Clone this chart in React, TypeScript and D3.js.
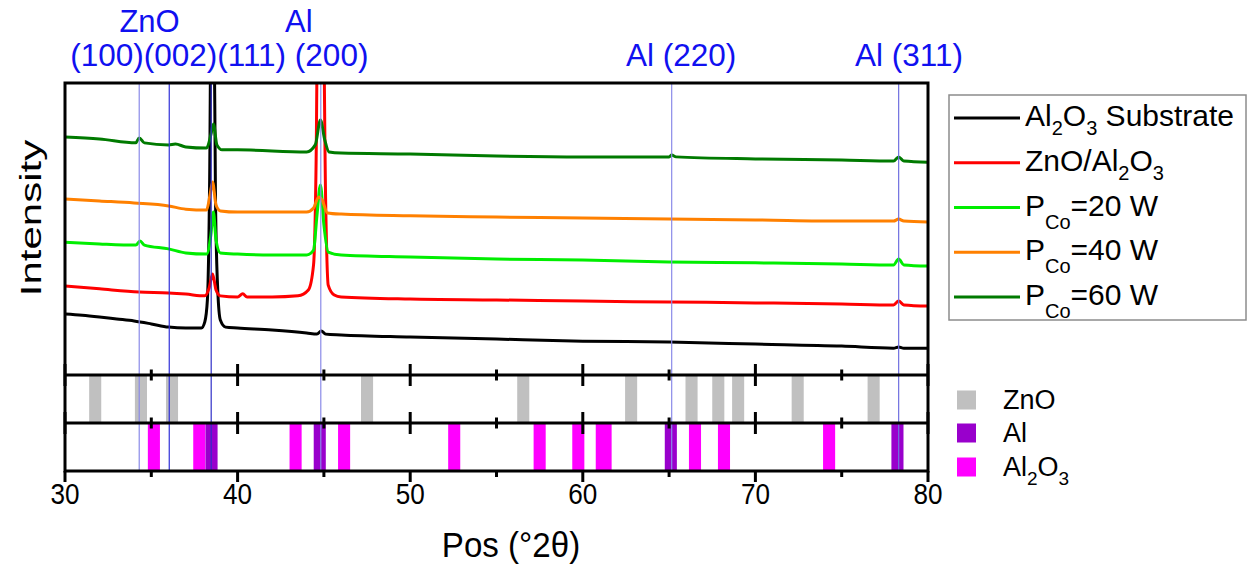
import React from "react";
import * as d3 from "d3";

// ---------- data (2θ in degrees, intensity in arbitrary units) ----------
const xTicks = [30, 35, 40, 45, 50, 55, 60, 65, 70, 75, 80];
const xLabels = [30, 40, 50, 60, 70, 80];

const substrate: [number, number][] = [
  [30, 209], [31, 205], [32, 199], [33, 192], [34, 185], [35, 175], [36, 164], [37, 161],
  [37.9, 161], [38.1, 182], [38.25, 257], [38.38, 668], [38.47, 1300], [38.62, 1300],
  [38.72, 600], [38.85, 291], [39.0, 188], [39.3, 164], [40, 161], [42, 154], [44, 144],
  [44.6, 140], [44.85, 151], [45.1, 140], [46, 137], [50, 130], [55, 123], [60, 116],
  [65, 113], [70, 106], [75, 99], [78, 92], [78.3, 96], [78.6, 92], [80, 92],
];
const znoFilm: [number, number][] = [
  [30, 305], [32, 295], [34.3, 284], [36, 281], [37, 277], [38.1, 271], [38.35, 298],
  [38.55, 346], [38.75, 291], [39.0, 271], [40.0, 267], [40.3, 278], [40.55, 267], [42, 267],
  [43.5, 271], [44.1, 291], [44.4, 377], [44.55, 736], [44.65, 1300], [44.95, 1300],
  [45.1, 600], [45.25, 308], [45.6, 274], [46, 267], [50, 260], [55, 257], [60, 253],
  [65, 250], [70, 247], [75, 243], [78.0, 240], [78.3, 253], [78.6, 240], [80, 236],
];
const pco20: [number, number][] = [
  [30, 455], [32, 449], [34.1, 445], [34.35, 459], [34.6, 445], [36, 432], [37, 418],
  [38.2, 414], [38.45, 479], [38.6, 558], [38.75, 462], [39.0, 418], [40, 414], [42, 411],
  [44.0, 411], [44.4, 428], [44.6, 548], [44.8, 651], [45.0, 514], [45.25, 421], [46, 411],
  [50, 404], [55, 397], [60, 394], [65, 387], [70, 384], [75, 380], [78.0, 377],
  [78.3, 397], [78.6, 377], [80, 373],
];
const pco40: [number, number][] = [
  [30, 603], [32, 596], [34, 589], [36, 579], [37, 568], [38.2, 565], [38.4, 616],
  [38.55, 661], [38.75, 582], [39.0, 562], [40, 558], [44.0, 558], [44.4, 572], [44.7, 610],
  [44.9, 599], [45.2, 555], [46, 551], [50, 545], [55, 541], [60, 538], [65, 534],
  [70, 531], [75, 527], [78.0, 527], [78.3, 534], [78.6, 527], [80, 524],
];
const pco60: [number, number][] = [
  [30, 815], [32, 808], [34.1, 795], [34.3, 812], [34.6, 795], [36, 788], [36.4, 791],
  [37, 781], [38.2, 777], [38.45, 822], [38.6, 860], [38.8, 788], [39.1, 771], [40, 771],
  [44.0, 764], [44.5, 788], [44.8, 873], [45.05, 805], [45.3, 764], [46, 760], [50, 757],
  [55, 750], [60, 747], [65.0, 747], [65.15, 753], [65.4, 747], [70, 740], [75, 736],
  [78.0, 733], [78.3, 747], [78.6, 733], [80, 729],
];

const seriesData = [substrate, znoFilm, pco20, pco40, pco60];
const seriesColors = ["#000000", "#ff0000", "#00ee00", "#ff8000", "#007a00"];
const seriesLabels = [
  [{ t: "Al" }, { t: "2", sub: true }, { t: "O" }, { t: "3", sub: true }, { t: " Substrate" }],
  [{ t: "ZnO/Al" }, { t: "2", sub: true }, { t: "O" }, { t: "3", sub: true }],
  [{ t: "P" }, { t: "Co", sub: true }, { t: "=20 W" }],
  [{ t: "P" }, { t: "Co", sub: true }, { t: "=40 W" }],
  [{ t: "P" }, { t: "Co", sub: true }, { t: "=60 W" }],
];

// reference patterns
const znoRefs = [31.75, 34.4, 36.2, 47.5, 56.55, 62.8, 66.3, 67.85, 69.0, 72.45, 76.85];
const al2o3Refs = [35.15, 37.78, 43.36, 46.17, 52.55, 57.5, 59.74, 61.1, 61.32, 66.5, 68.18, 74.27];
const alRefs = [38.49, 44.76, 65.1, 78.23];
const refNames = ["ZnO", "Al", "Al2O3"];
const refColors = ["#c0c0c0", "#9900cc", "#ff00ff"];

// indexed reflections marked with vertical lines
const markerPos = [34.3, 36.04, 38.47, 44.82, 65.15, 78.3];
const markerColors = ["#8a8ae8", "#3030d8", "#3030c8", "#8a8ae8", "#8a8ae8", "#7070e0"];

// ---------- layout ----------
const W = 1254, H = 565;
const L = 65, R = 928, T = 83, B1 = 375, B2 = 423, B3 = 471;
const font = "'Liberation Sans', Arial, Helvetica, sans-serif";
const blue = "#1010f0";

const x = d3.scaleLinear().domain([30, 80]).range([L, R]);
const y = d3.scaleLinear().domain([0, 1000]).range([B1, T]);
const line = d3.line<[number, number]>().x(d => x(d[0])).y(d => y(d[1])).curve(d3.curveMonotoneX);
const barW = x(30.7) - x(30);

function Label({ parts, size, subSize, sub }: { parts: { t: string; sub?: boolean }[]; size: number; subSize: number; sub: number }) {
  let state = false;
  return (
    <>
      {parts.map((p, i) => {
        let dy = 0;
        if (p.sub && !state) dy = sub;
        if (!p.sub && state) dy = -sub;
        state = !!p.sub;
        return (
          <tspan key={i} dy={dy} fontSize={p.sub ? subSize : size}>{p.t}</tspan>
        );
      })}
    </>
  );
}

export default function App() {
  const refRows = [
    { refs: znoRefs, color: refColors[0], y0: B1, y1: B2 },
    { refs: al2o3Refs, color: refColors[2], y0: B2, y1: B3 },
    { refs: alRefs, color: refColors[1], y0: B2, y1: B3 },
  ];
  return (
    <svg width={W} height={H} style={{ position: "absolute", left: 0, top: 0, background: "#fff" }} fontFamily={font}>
      <defs>
        <clipPath id="mainClip">
          <rect x={L} y={T} width={R - L} height={B1 - T} />
        </clipPath>
      </defs>
      <rect x={0} y={0} width={W} height={H} fill="#fff" />

      {/* curves */}
      <g clipPath="url(#mainClip)">
        {seriesData.map((d, i) => (
          <path key={i} d={line(d) || ""} fill="none" stroke={seriesColors[i]} strokeWidth={3} strokeLinejoin="round" />
        ))}
      </g>

      {/* reference bars */}
      {refRows.map((row, r) =>
        row.refs.map((p, i) => (
          <rect key={r + "-" + i} x={x(p) - barW / 2} y={row.y0} width={barW} height={row.y1 - row.y0} fill={row.color} />
        ))
      )}

      {/* marker lines */}
      {markerPos.map((p, i) => (
        <line key={i} x1={x(p)} x2={x(p)} y1={T} y2={B3} stroke={markerColors[i]} strokeWidth={1.2} />
      ))}

      {/* frame */}
      <rect x={L} y={T} width={R - L} height={B3 - T} fill="none" stroke="#000" strokeWidth={3} />
      <line x1={L} x2={R} y1={B1} y2={B1} stroke="#000" strokeWidth={3} />
      <line x1={L} x2={R} y1={B2} y2={B2} stroke="#000" strokeWidth={3} />

      {/* ticks */}
      {[B1, B2].map((yy, j) =>
        xTicks.map(t => {
          const len = t % 10 === 0 ? 11 : 5.5;
          return <line key={j + "-" + t} x1={x(t)} x2={x(t)} y1={yy - len} y2={yy + len} stroke="#000" strokeWidth={3} />;
        })
      )}
      {xTicks.map(t => {
        const len = t % 10 === 0 ? 11 : 6;
        return <line key={"b" + t} x1={x(t)} x2={x(t)} y1={B3} y2={B3 + len} stroke="#000" strokeWidth={3} />;
      })}
      {xLabels.map(t => (
        <text key={"l" + t} transform={`translate(${x(t)}, 504) scale(0.9, 1)`} textAnchor="middle" fontSize={29} fill="#000">{t}</text>
      ))}
      <text transform="translate(511, 557) scale(0.92, 1)" textAnchor="middle" fontSize={36} fill="#000">Pos (°2θ)</text>
      <text transform={`translate(41, 218) rotate(-90) scale(1, 0.72)`} textAnchor="middle" fontSize={42} fill="#000">Intensity</text>

      {/* peak annotations */}
      <text x={x(34.9)} y={32} textAnchor="middle" fontSize={31} fill={blue}>ZnO</text>
      <text x={x(43.55)} y={32} textAnchor="middle" fontSize={31} fill={blue}>Al</text>
      <text x={x(30.3)} y={66} textAnchor="start" fontSize={31.5} fill={blue}>(100)(002)(111) (200)</text>
      <text x={x(65.7)} y={66} textAnchor="middle" fontSize={31.5} fill={blue}>Al (220)</text>
      <text x={x(78.9)} y={66} textAnchor="middle" fontSize={31.5} fill={blue}>Al (311)</text>

      {/* legend for curves */}
      <rect x={949} y={95} width={297} height={225} fill="#fff" stroke="#8c8c8c" strokeWidth={1.5} />
      {seriesLabels.map((parts, i) => {
        const ly = 118 + i * 44.75;
        return (
          <g key={i}>
            <line x1={954} x2={1020} y1={ly} y2={ly} stroke={seriesColors[i]} strokeWidth={3} />
            <text x={1025} y={ly + 8} fontSize={30} fill="#000">
              <Label parts={parts} size={30} subSize={20} sub={i < 2 ? 9 : 13} />
            </text>
          </g>
        );
      })}

      {/* legend for reference patterns */}
      {refNames.map((n, i) => {
        const cy = [400, 433, 467][i];
        return (
          <g key={n}>
            <rect x={957} y={cy - 9.5} width={19} height={19} fill={refColors[i]} />
            <text x={1003} y={cy + 9} fontSize={27} fill="#000">
              {n === "Al2O3" ? (
                <Label parts={[{ t: "Al" }, { t: "2", sub: true }, { t: "O" }, { t: "3", sub: true }]} size={27} subSize={19} sub={9} />
              ) : n}
            </text>
          </g>
        );
      })}
    </svg>
  );
}
